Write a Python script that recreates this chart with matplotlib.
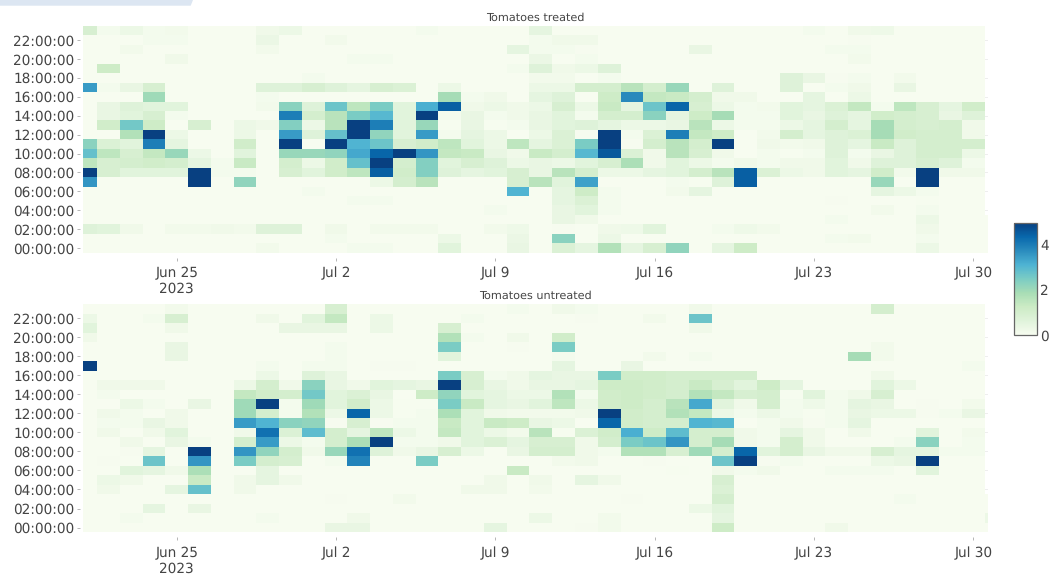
import matplotlib
matplotlib.use("Agg")
import matplotlib.pyplot as plt
import matplotlib.dates as mdates
from matplotlib.patches import Polygon
import numpy as np
import pandas as pd

plt.rcParams["text.hinting"] = "no_hinting"

nan = float("nan")

first_day = "2023-06-21"
hours = list(range(24))
hour_ticks = [0, 2, 4, 6, 8, 10, 12, 14, 16, 18, 20, 22]
hour_labels = ["00:00:00", "02:00:00", "04:00:00", "06:00:00", "08:00:00", "10:00:00",
               "12:00:00", "14:00:00", "16:00:00", "18:00:00", "20:00:00", "22:00:00"]
date_ticks = ["2023-06-25", "2023-07-02", "2023-07-09", "2023-07-16", "2023-07-23", "2023-07-30"]
date_labels = ["Jun 25\n2023", "Jul 2", "Jul 9", "Jul 16", "Jul 23", "Jul 30"]

# one row per hour (00 first), one value per day from Jun 21 to Jul 31
treated = [
    [0,0,0,0,0,0,0,0,.15,0, 0,0,.1,.1,0,0,.6,0,0,.4, 0,.8,.5,1.7,.5,.9,2.2,0,.5,1.2, 0,0,0,0,0,0,0,.3,0,0, 0],
    [0,0,0,0,0,0,0,0,0,0, 0,.1,0,0,0,0,.3,0,0,.35, 0,2.3,0,.3,0,0,0,0,0,0, 0,0,0,.1,.15,0,0,.1,0,0, 0],
    [.7,.6,.2,0,.15,.15,.2,.15,.7,.7, 0,.2,0,.15,.15,.15,0,0,.15,.25, 0,.05,0,.2,.25,.6,0,0,.1,.25, .15,0,0,0,0,0,0,.2,0,0, 0],
    [0,0,0,0,0,0,0,0,0,0, 0,0,0,0,0,0,0,0,0,0, 0,.4,.2,0,0,0,0,0,0,0, 0,0,0,.1,0,0,0,.3,0,0, 0],
    [0,0,0,0,0,0,0,0,0,0, 0,0,0,0,0,0,0,0,.1,0, 0,.4,.6,.1,0,0,0,0,0,0, 0,0,0,0,0,.15,0,.1,0,0, nan],
    [0,0,0,0,0,0,0,0,0,0, 0,0,.1,.1,0,0,0,0,0,0, 0,.5,.8,.1,0,0,0,0,0,0, 0,0,0,.05,0,0,0,.03,0,0, nan],
    [0,0,0,0,0,0,0,0,0,0, .1,0,0,0,0,0,0,0,0,3.1, 0,.5,1.2,.1,0,0,.15,.5,0,0, 0,0,0,0,0,.5,.3,.1,0,0, nan],
    [3.6,0,0,0,0,5,0,2.2,0,0, 0,0,0,.3,1,1.6,0,0,0,.9, 1.6,.6,3.4,0,0,0,.1,.02,.7,4.5, 0,0,0,0,0,2.1,0,5,0,0, nan],
    [5,.9,.6,.6,.6,5,.1,.1,0,.9, .6,1.1,1.5,4.5,1.1,2.4,.7,.5,.6,.9, .4,1.6,1,.3,.3,.5,.6,1,1.6,4.5, .8,.3,.2,.6,.5,1.1,.15,5,.2,.2, nan],
    [1.5,.9,1,1.1,1,.5,.1,1.3,0,1, .3,1.1,2.8,5,1,2.4,.6,.9,.7,.3, .4,.3,.6,.9,1.8,.2,.6,.3,.1,.2, .1,.2,.2,.6,.2,.7,.7,.9,.7,.1, nan],
    [2.8,1.5,.9,1.4,2.1,.3,0,.6,0,2.1, 2.1,2.2,3.3,4.4,5,3.6,1.4,1.3,.4,.2, 1.3,1,3,4.6,.8,.2,1.6,.9,.2,0, .1,.02,.1,.7,.1,.4,.7,1,1,.3, nan],
    [2.3,.8,.6,4,.5,0,0,1.1,0,5, 0,5,3.1,2.7,.9,1.1,1.5,.6,.3,1.5, .5,.8,2.5,5,.05,1,1.6,1,5,0, .2,.15,.2,.7,.5,1.3,.7,1,1,1, nan],
    [0,0,1.7,5,.3,0,0,.3,0,3.5, .7,2.8,5,2.2,.6,3.5,.1,.5,.3,0, .3,.8,.05,5,.1,.8,4,1.4,1.2,0, .15,1,.5,.7,.8,1.9,1.1,1,1,.2, nan],
    [0,1.1,2.6,1.2,0,.9,0,.3,.2,2.4, .3,1.6,5,4,.6,2.1,.02,.4,.02,.1, .4,.6,.7,.5,.3,.3,.4,1.6,.3,.1, .1,.3,.5,1,.5,1.9,1,.9,1,.2, nan],
    [0,.4,.6,.9,.1,0,0,0,0,4, 1,1.6,2.5,3,.6,5,.1,.4,.1,.2, .4,.6,.1,1,1,2.3,.5,1.2,1.9,.1, .1,.6,.4,.7,.5,1.1,1,.9,.4,.7, nan],
    [0,.4,.7,.6,.6,0,0,0,.15,2.3, .7,2.7,1.5,2.5,.6,3.2,4.5,.2,.3,.2, .3,.9,.3,1.3,.5,2.7,4.4,.9,.3,.1, .15,.6,.5,.8,1.4,.1,1.5,.9,.5,1.1, nan],
    [0,0,0,2,0,0,0,0,.1,0, 0,0,0,0,0,0,1.9,.1,.2,0, .5,.7,0,1.2,3.8,1.4,1.3,1,.2,.2, 0,0,.5,0,.3,0,0,0,0,0, nan],
    [3.5,.1,.4,.9,0,0,0,0,.7,.7, .9,.7,.5,.9,.8,0,.3,0,0,0, .3,.3,1,1,1.6,1,2.1,0,.7,0, 0,.7,0,.1,.2,0,.4,0,0,0, nan],
    [0,0,0,0,0,0,0,0,0,0, .1,0,0,0,0,0,0,0,0,0, .15,.15,0,.1,0,0,0,0,0,0, 0,.7,.4,.05,.1,0,.15,0,0,0, nan],
    [0,1.2,0,0,0,0,0,0,0,0, 0,0,0,0,0,0,0,0,0,.1, .7,.2,.3,.7,0,0,0,0,0,0, 0,0,0,0,0,0,0,0,0,0, nan],
    [0,0,0,0,.2,0,0,0,0,0, 0,0,.1,.1,0,0,0,0,0,0, .35,0,.1,0,0,0,0,0,0,0, 0,0,0,0,.15,0,0,0,0,0, nan],
    [0,0,.15,0,0,0,0,0,.15,0, 0,0,0,0,0,0,0,0,0,.5, .1,.1,.05,0,0,0,0,.4,0,0, 0,0,0,.1,.1,0,0,0,0,0, nan],
    [0,0,0,.1,.1,0,0,0,.35,0, 0,.15,0,0,0,0,0,0,0,0, .1,.2,.2,0,0,0,0,0,0,0, 0,0,0,0,.05,0,0,0,0,0, nan],
    [.9,.1,.3,.1,.15,0,0,0,.2,.3, 0,0,0,0,0,.1,0,0,0,0, .5,0,0,0,0,0,0,0,0,0, 0,0,.1,0,.2,.25,0,0,0,0, nan],
]

untreated = [
    [0,0,0,0,0,0,0,0,0,0, 0,.4,.4,0,0,0,0,0,.5,0, 0,0,.05,.15,0,0,0,0,1.2,0, 0,0,0,.2,0,0,0,0,0,0, 0],
    [0,0,.1,0,0,0,0,0,.1,0, 0,0,.2,0,0,0,0,0,0,0, .3,0,0,.15,0,0,0,0,.5,0, 0,0,0,0,0,0,0,0,0,0, .3],
    [0,0,0,.5,0,.4,0,0,0,0, 0,0,0,0,0,0,0,0,0,0, 0,0,0,0,0,0,0,.3,.6,0, 0,0,0,0,0,0,0,0,0,0, 0],
    [0,0,0,0,0,0,0,0,0,0, 0,.05,0,0,.15,0,0,0,0,0, 0,0,0,0,.05,0,0,0,1,0, 0,0,0,0,0,0,.1,0,0,0, 0],
    [0,.2,0,0,.5,2.8,0,.2,0,0, 0,0,0,0,0,0,0,.2,.2,0, .15,0,0,0,0,0,0,0,.8,0, 0,0,0,0,0,0,0,0,0,0, nan],
    [0,.3,.2,0,0,1.3,0,.2,.5,.2, 0,0,0,0,0,0,0,0,.2,0, .2,0,.5,.2,0,0,0,0,.9,0, 0,0,0,0,0,0,0,0,0,0, nan],
    [0,0,.6,.5,.2,1.8,0,0,.5,0, 0,0,0,0,0,0,0,0,0,1.3, 0,0,0,0,0,0,.03,0,.2,.1, .2,0,0,.1,.1,.1,0,.6,0,0, nan],
    [0,.05,0,2.7,0,3.6,0,2.5,1,.9, 0,.1,3.9,0,0,2.5,0,0,0,0, 0,.15,.2,0,0,.05,0,0,2.7,5, .05,.1,0,0,0,.3,.4,5,0,0, nan],
    [0,0,.05,.5,0,5,0,3.6,2.2,1, .2,2.1,4.2,.7,.2,.4,.9,.3,0,.4, 1,1,.2,.1,1.7,1.7,.9,2,1,4.4, .6,1,.4,.2,.2,.9,.5,.5,.1,.1, nan],
    [0,0,.2,0,.4,.1,0,1,3.5,.3, .1,1,1.8,5,.1,.1,.2,.6,.8,.5, .9,.9,.2,1,2.5,2.7,3.6,1,1.9,.2, .1,1,.2,0,0,0,.1,2.3,0,.1, nan],
    [0,.2,0,.2,.6,0,0,.2,4.2,.8, 2.9,1,.5,1.5,.3,.1,1.4,.6,.3,.15, 1.6,.03,.8,1.1,3.2,1.2,2.9,1,1,.2, .1,.5,.2,0,.2,0,0,.6,0,.15, nan],
    [0,.1,.1,.4,.2,0,0,3.5,3.1,2.3, 2.2,.05,.9,.05,.1,.1,1.3,.6,1.3,1.2, .4,.3,0,4.4,1.1,1,1,3.1,3,0, .1,.2,.05,.1,.5,0,0,0,0,0, nan],
    [0,.2,.1,0,.2,0,0,2,1,.1, 1.7,.3,4.4,.3,.03,.1,1.8,.6,.2,.15, .15,.15,.2,5,1.1,1,1.7,1.4,.3,.1, .3,.1,.02,.1,.4,.3,.3,.05,.1,.4, nan],
    [0,0,.3,.1,0,.4,0,2,5,.1, 2,.6,1.1,.3,.02,.03,2.5,1.3,.5,.4, .6,1.5,.3,1.1,1.2,1,1.6,3.3,.6,.2, 1,.1,.25,.1,.5,.4,0,.05,0,.15, nan],
    [0,.1,0,0,0,0,0,1.4,1.1,1, 2.6,.6,.8,.4,0,1.2,2.2,.6,.5,.3, .3,1.7,.1,1.1,1.2,1.1,1,1.7,1.4,.9, 1,.03,.6,.1,.2,.9,0,0,0,0, nan],
    [0,.2,.2,.2,0,0,0,.3,1,.2, 2.3,.4,.2,.6,.5,.4,5,.9,.4,.2, .4,.4,.5,1.2,1.2,1.1,1,1.3,.9,.6, 1.2,.5,0,0,0,.6,.3,0,0,0, nan],
    [0,0,0,0,0,0,0,0,.3,0, .7,.4,0,0,0,0,2.5,.9,.1,.2, .5,.4,.4,2.5,1.1,1.1,1,1,1,1, 0,0,0,0,0,.2,0,0,0,0, nan],
    [5,0,0,0,0,0,0,0,.1,0, .1,.1,0,.05,.05,0,0,0,0,0, 0,.5,0,0,.4,0,0,0,0,0, 0,0,0,0,0,0,0,0,0,.1, nan],
    [0,0,0,0,.4,0,0,0,0,0, 0,.1,0,0,0,0,.6,0,0,0, 0,.1,0,0,0,.15,0,.1,0,0, 0,0,0,0,1.9,.15,0,0,0,0, nan],
    [0,0,0,0,.4,0,0,0,0,0, 0,.1,0,0,0,0,2.5,0,0,.05, 0,2.5,0,0,0,0,0,0,0,0, 0,0,0,0,0,.15,0,0,0,0, nan],
    [.2,0,0,0,0,0,0,0,0,0, 0,0,0,0,0,0,1.7,.1,0,.2, 0,1.1,0,0,0,0,0,0,0,0, 0,0,0,0,0,0,0,0,0,0, nan],
    [.6,0,0,0,.2,0,0,0,0,.4, .4,.4,0,.3,0,0,.9,0,0,0, 0,0,0,0,0,0,0,.2,0,0, 0,0,0,0,0,0,0,0,0,0, nan],
    [.3,0,0,.1,.9,0,0,0,.2,0, .6,1.4,0,.3,0,0,0,.1,0,0, 0,0,.05,0,0,.15,0,2.7,0,0, 0,0,0,0,0,0,0,0,0,0, nan],
    [0,0,0,0,.15,0,0,0,0,0, 0,.9,0,0,0,0,0,0,0,.1, 0,.2,.1,0,0,0,0,.2,0,0, 0,0,0,0,0,1,0,0,0,0, nan],
]

W, H = 1051, 576
text_color = "#444444"
tick_size = 9.8

def ax_rect(left, top, right, bottom):
    return [left / W, 1 - bottom / H, (right - left) / W, (bottom - top) / H]

def draw_panel(ax, values, title):
    # cell edges sit half a day / half an hour around each value
    day_edges = pd.date_range(first_day, periods=len(values[0]) + 1, freq="D") - pd.Timedelta(hours=12)
    hour_edges = np.arange(len(hours) + 1) - 0.5
    mesh = ax.pcolormesh(day_edges, hour_edges, np.array(values, dtype=float),
                         cmap="GnBu", vmin=0, vmax=5, zorder=2)
    start = mdates.date2num(pd.Timestamp(first_day))
    ax.set_xlim(start - 0.13, start + 39.66)
    ax.set_ylim(-0.5, 23.5)
    ax.set_xticks(mdates.date2num(pd.to_datetime(date_ticks)))
    ax.set_xticklabels(date_labels)
    ax.set_yticks(hour_ticks)
    ax.set_yticklabels(hour_labels)
    ax.grid(True, color="#eeeeee", linewidth=0.7, zorder=0)
    ax.set_axisbelow(True)
    for side in ["top", "right"]:
        ax.spines[side].set_visible(False)
    ax.spines["left"].set_position(("outward", 2.2))
    ax.spines["bottom"].set_position(("outward", 3.6))
    ax.spines["left"].set_color("none")
    ax.spines["bottom"].set_color("none")
    ax.tick_params(axis="both", length=2.4, width=0.6, color="#aaaaaa",
                   labelcolor=text_color, labelsize=tick_size)
    ax.tick_params(axis="x", pad=4)
    ax.tick_params(axis="y", pad=1.5)
    ax.set_title(title, fontsize=8.1, color=text_color, pad=4)
    return mesh

fig = plt.figure(figsize=(W / 100, H / 100), dpi=100)

# strip of the page left in the top corner
fig.add_artist(Polygon([[0, 1], [193 / W, 1], [190.7 / W, 1 - 5.7 / H], [0, 1 - 5.7 / H]],
                       closed=True, transform=fig.transFigure, facecolor="#dce6f2", edgecolor="none"))

ax1 = fig.add_axes(ax_rect(82.7, 26, 988.3, 252.7))
ax2 = fig.add_axes(ax_rect(82.7, 304, 988.3, 532.3))
mesh = draw_panel(ax1, treated, "Tomatoes treated")
draw_panel(ax2, untreated, "Tomatoes untreated")

cax = fig.add_axes(ax_rect(1014.3, 222.7, 1036.7, 335))
cbar = fig.colorbar(mesh, cax=cax)
cbar.set_ticks([0, 2, 4])
cbar.ax.tick_params(length=0, pad=2.5, labelcolor=text_color, labelsize=tick_size)
cbar.outline.set_edgecolor("#666666")
cbar.outline.set_linewidth(0.9)

fig.savefig("out.png", dpi=100)
